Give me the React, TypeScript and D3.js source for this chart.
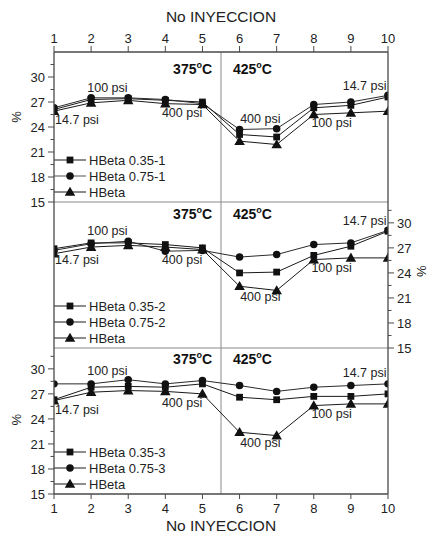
import React from "react";
import * as d3 from "d3";

const injections = [1, 2, 3, 4, 5, 6, 7, 8, 9, 10];
const yTickValues = [15, 18, 21, 24, 27, 30];
const yMinorValues = [16.5, 19.5, 22.5, 25.5, 28.5, 31.5];

const hbeta035_1 = [26.1, 27.3, 27.4, 27.2, 27.0, 23.1, 22.8, 26.3, 26.6, 27.6];
const hbeta075_1 = [26.3, 27.5, 27.5, 27.3, 26.8, 23.7, 23.8, 26.7, 27.0, 27.8];
const hbeta_1 = [25.9, 26.9, 27.2, 26.8, 26.7, 22.3, 21.9, 25.5, 25.7, 25.9];

const hbeta035_2 = [26.9, 27.6, 27.6, 27.4, 27.0, 24.0, 24.1, 26.1, 27.2, 29.0];
const hbeta075_2 = [26.7, 27.5, 27.8, 26.6, 26.7, 25.9, 26.2, 27.4, 27.6, 29.1];
const hbeta_2 = [26.3, 27.1, 27.3, 27.1, 26.8, 22.4, 21.9, 25.6, 25.8, 25.8];

const hbeta035_3 = [26.3, 27.8, 27.9, 27.8, 28.2, 26.6, 26.3, 26.7, 26.7, 27.0];
const hbeta075_3 = [28.2, 28.2, 28.7, 28.2, 28.6, 28.0, 27.3, 27.8, 28.0, 28.2];
const hbeta_3 = [26.2, 27.2, 27.4, 27.3, 27.0, 22.4, 22.0, 25.6, 25.8, 25.8];

const legend_1 = ["HBeta 0.35-1", "HBeta 0.75-1", "HBeta"];
const legend_2 = ["HBeta 0.35-2", "HBeta 0.75-2", "HBeta"];
const legend_3 = ["HBeta 0.35-3", "HBeta 0.75-3", "HBeta"];

const pressureLabels = ["14.7 psi", "100 psi", "400 psi", "400 psi", "100 psi", "14.7 psi"];
const pressureX = [1.03, 2.44, 4.45, 6.56, 8.48, 9.96];
const pressureAnchor = ["start", "middle", "middle", "middle", "middle", "end"];
const pressureY_1 = [24.42, 28.2, 25.2, 24.48, 24.06, 28.5];
const pressureY_2 = [25.08, 28.5, 25.02, 20.64, 24.12, 29.7];
const pressureY_3 = [24.6, 29.28, 25.44, 20.64, 24.06, 29.04];

const tempLabels = ["375", "425"];
const tempX = [5.26, 5.82];
const tempY = [30.4, 30.5, 30.6];

const xTitle = "No INYECCION";
const yTitle = "%";
const yTitleValues = [25.2, 24.2, 23.9];

const W = 441;
const H = 536;
const left = 54;
const right = 388;
const top = 52;
const sep1 = 202;
const sep2 = 348;
const bottom = 494;

const FONT = "'Liberation Sans', Arial, Helvetica, sans-serif";
const AXIS = "#4a4a4a";
const GRAYLINE = "#8a8a8a";

const x = d3.scaleLinear().domain([1, 10]).range([left, right]);

const panels = [
  { id: 1, y: d3.scaleLinear().domain([15, 33]).range([sep1, top]), series: [hbeta035_1, hbeta075_1, hbeta_1], legend: legend_1, py: pressureY_1, axis: "left" },
  { id: 2, y: d3.scaleLinear().domain([15, 32.5]).range([sep2, sep1]), series: [hbeta035_2, hbeta075_2, hbeta_2], legend: legend_2, py: pressureY_2, axis: "right" },
  { id: 3, y: d3.scaleLinear().domain([15, 32.5]).range([bottom, sep2]), series: [hbeta035_3, hbeta075_3, hbeta_3], legend: legend_3, py: pressureY_3, axis: "left" },
];

const symbols = [d3.symbolSquare, d3.symbolCircle, d3.symbolTriangle];
const symbolSizes = [46, 44, 48];
const lineColors = ["#1a1a1a", "#2a2a2a", "#1a1a1a"];
const legendLineColors = ["#1a1a1a", "#555", "#1a1a1a"];

function Marker({ cx, cy, k }: { cx: number; cy: number; k: number }) {
  const path = d3.symbol().type(symbols[k]).size(symbolSizes[k])() as string;
  const dy = k === 2 ? 0.8 : 0;
  return <path d={path} transform={`translate(${cx},${cy + dy})`} fill="#111" />;
}

function Panel({ p }: { p: (typeof panels)[number] }) {
  const line = d3
    .line<number>()
    .x((_, i) => x(injections[i]))
    .y((d) => p.y(d));
  const [y0, y1] = p.y.range();
  const clipId = `clip${p.id}`;
  const isLeft = p.axis === "left";
  const ax = isLeft ? left : right;
  const dir = isLeft ? -1 : 1;
  return (
    <g>
      <defs>
        <clipPath id={clipId}>
          <rect x={left} y={y1} width={right - left} height={y0 - y1} />
        </clipPath>
      </defs>
      {yTickValues.map((v) => (
        <g key={`t${v}`}>
          <line x1={ax} x2={ax + dir * 6} y1={p.y(v)} y2={p.y(v)} stroke={AXIS} strokeWidth={1} />
          <text
            x={ax + dir * 9}
            y={p.y(v)}
            dy="0.36em"
            textAnchor={isLeft ? "end" : "start"}
            fontSize={13}
            fontFamily={FONT}
            fill="#222"
          >
            {v}
          </text>
        </g>
      ))}
      {yMinorValues
        .filter((v) => p.y(v) >= y1 - 0.5)
        .map((v) => (
          <line key={`m${v}`} x1={ax} x2={ax + dir * 3.5} y1={p.y(v)} y2={p.y(v)} stroke={AXIS} strokeWidth={1} />
        ))}
      <text x={x(tempX[0])} y={p.y(tempY[p.id - 1])} textAnchor="end" fontSize={14} fontWeight="bold" fontFamily={FONT} fill="#111">
        {tempLabels[0]}
        <tspan fontSize={9} dy={-6}>o</tspan>
        <tspan dy={6}>C</tspan>
      </text>
      <text x={x(tempX[1])} y={p.y(tempY[p.id - 1])} textAnchor="start" fontSize={14} fontWeight="bold" fontFamily={FONT} fill="#111">
        {tempLabels[1]}
        <tspan fontSize={9} dy={-6}>o</tspan>
        <tspan dy={6}>C</tspan>
      </text>
      <g clipPath={`url(#${clipId})`}>
        {p.series.map((s, k) => (
          <path key={`l${k}`} d={line(s) as string} fill="none" stroke={lineColors[k]} strokeWidth={1} />
        ))}
        {p.series.map((s, k) =>
          s.map((v, i) => <Marker key={`p${k}-${i}`} cx={x(injections[i])} cy={p.y(v)} k={k} />)
        )}
      </g>
      {pressureLabels.map((t, i) => (
        <text
          key={`a${i}`}
          x={x(pressureX[i])}
          y={p.y(p.py[i])}
          textAnchor={pressureAnchor[i] as any}
          fontSize={12.5}
          fontFamily={FONT}
          fill="#222"
        >
          {t}
        </text>
      ))}
      {p.legend.map((t, k) => {
        const ly = y0 - 42 + k * 16;
        return (
          <g key={`lg${k}`}>
            <line x1={left} x2={left + 32} y1={ly} y2={ly} stroke={p.id === 1 ? legendLineColors[k] : "#1a1a1a"} strokeWidth={1} />
            <Marker cx={left + 16} cy={ly} k={k} />
            <text x={left + 35} y={ly} dy="0.36em" fontSize={13} fontFamily={FONT} fill="#222">
              {t}
            </text>
          </g>
        );
      })}
      <text
        transform={`translate(${isLeft ? 21 : 426},${p.y(yTitleValues[p.id - 1])}) rotate(-90)`}
        textAnchor="middle"
        fontSize={13}
        fontFamily={FONT}
        fill="#222"
      >
        {yTitle}
      </text>
    </g>
  );
}

export default function App() {
  return (
    <svg
      width={W}
      height={H}
      viewBox={`0 0 ${W} ${H}`}
      style={{ position: "absolute", left: 0, top: 0, background: "#fff" }}
    >
      <rect x={0} y={0} width={W} height={H} fill="#fff" />
      <text x={(left + right) / 2} y={22} textAnchor="middle" fontSize={15.5} fontFamily={FONT} fill="#222">
        {xTitle}
      </text>
      <text x={(left + right) / 2} y={531} textAnchor="middle" fontSize={15.5} fontFamily={FONT} fill="#222">
        {xTitle}
      </text>
      {injections.map((v) => (
        <g key={`x${v}`}>
          <line x1={x(v)} x2={x(v)} y1={top} y2={top - 6} stroke={AXIS} strokeWidth={1} />
          <text x={x(v)} y={top - 9} textAnchor="middle" fontSize={13} fontFamily={FONT} fill="#222">
            {v}
          </text>
          <line x1={x(v)} x2={x(v)} y1={bottom} y2={bottom + 5} stroke={AXIS} strokeWidth={1} />
          <text x={x(v)} y={bottom + 19} textAnchor="middle" fontSize={13} fontFamily={FONT} fill="#222">
            {v}
          </text>
        </g>
      ))}
      <line x1={x(5.5)} x2={x(5.5)} y1={top} y2={bottom} stroke={GRAYLINE} strokeWidth={1} />
      <line x1={left} x2={right} y1={sep1} y2={sep1} stroke={GRAYLINE} strokeWidth={1.2} />
      <line x1={left} x2={right} y1={sep2} y2={sep2} stroke={GRAYLINE} strokeWidth={1.2} />
      {panels.map((p) => (
        <Panel key={p.id} p={p} />
      ))}
      <line x1={left} x2={right} y1={top} y2={top} stroke={AXIS} strokeWidth={1.3} />
      <line x1={left} x2={right} y1={bottom} y2={bottom} stroke={AXIS} strokeWidth={1.3} />
      <line x1={left} x2={left} y1={top} y2={bottom} stroke={AXIS} strokeWidth={1.3} />
      <line x1={right} x2={right} y1={top} y2={bottom} stroke={AXIS} strokeWidth={1.3} />
    </svg>
  );
}
